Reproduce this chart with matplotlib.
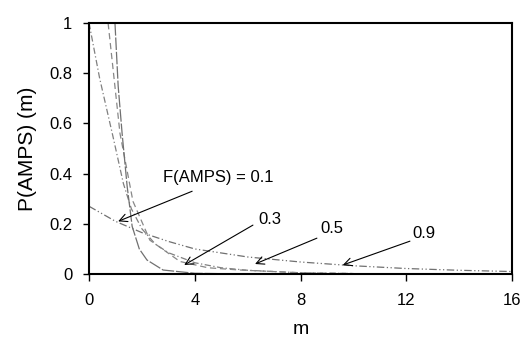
import numpy as np
import matplotlib
matplotlib.use('Agg')
import matplotlib.pyplot as plt
from matplotlib.ticker import FuncFormatter

plt.rcParams['font.family'] = ['Liberation Sans', 'DejaVu Sans']

# curves: m values and P(AMPS)(m)
m_01 = [0, 1, 2, 3, 4, 6, 8, 10, 12, 14, 16]
p_01 = [0.27, 0.21, 0.165, 0.13, 0.10, 0.068, 0.048, 0.033, 0.022, 0.015, 0.01]

m_03 = [0, 0.4, 0.9, 1.3, 1.6, 2, 2.5, 3, 4, 5, 6, 8, 10]
p_03 = [1.0, 0.78, 0.55, 0.36, 0.26, 0.18, 0.12, 0.085, 0.045, 0.025, 0.015, 0.005, 0.002]

m_05 = [0.72, 1.17, 1.66, 2.3, 3.44, 4.5, 5.7, 8, 10]
p_05 = [1.0, 0.56, 0.29, 0.135, 0.05, 0.025, 0.016, 0.005, 0.002]

m_09 = [0.98, 1.1, 1.25, 1.44, 1.63, 1.9, 2.19, 2.8, 4, 6]
p_09 = [1.0, 0.75, 0.56, 0.35, 0.19, 0.1, 0.056, 0.016, 0.003, 0.0]

# arrow labels: text, text position, arrow tail, arrow tip
labels = ['F(AMPS) = 0.1', '0.3', '0.5', '0.9']
text_xy = [(2.8, 0.383), (6.39, 0.218), (8.74, 0.183), (12.25, 0.163)]
tail_xy = [(3.9, 0.33), (6.2, 0.195), (8.62, 0.143), (12.14, 0.131)]
tip_xy = [(1.1, 0.21), (3.6, 0.036), (6.28, 0.04), (9.6, 0.036)]


def main():
    fig = plt.figure(figsize=(5.24, 3.4), dpi=100)
    ax = fig.add_axes([0.170, 0.194, 0.807, 0.738])

    ax.plot(m_01, p_01, color='#707070', lw=0.9, dashes=(6, 2, 1, 2, 1, 2))
    ax.plot(m_03, p_03, color='#808080', lw=0.9, dashes=(5, 2, 1, 2))
    ax.plot(m_05, p_05, color='#888888', lw=0.9, dashes=(5, 3))
    ax.plot(m_09, p_09, color='#707070', lw=0.9, dashes=(10, 1.5))

    for lab, t, a, b in zip(labels, text_xy, tail_xy, tip_xy):
        ax.text(t[0], t[1], lab, fontsize=12, ha='left', va='center')
        ax.annotate('', xy=b, xytext=a,
                    arrowprops=dict(arrowstyle='->', color='black', lw=0.8,
                                    shrinkA=0, shrinkB=0,
                                    mutation_scale=14))

    ax.set_xlim(0, 16)
    ax.set_ylim(0, 1)
    ax.set_xticks([0, 4, 8, 12, 16])
    ax.set_yticks([0, 0.2, 0.4, 0.6, 0.8, 1])
    ax.yaxis.set_major_formatter(FuncFormatter(lambda v, p: '%g' % v))
    ax.tick_params(direction='out', length=4, width=1, labelsize=12)
    ax.tick_params(axis='x', length=5, pad=9)
    ax.tick_params(axis='y', pad=8)
    for s in ax.spines.values():
        s.set_linewidth(1.5)

    ax.set_xlabel('m', fontsize=14, labelpad=9)
    ax.set_ylabel('P(AMPS) (m)', fontsize=15, labelpad=9)

    fig.savefig('out.png', dpi=100)


if __name__ == '__main__':
    main()
